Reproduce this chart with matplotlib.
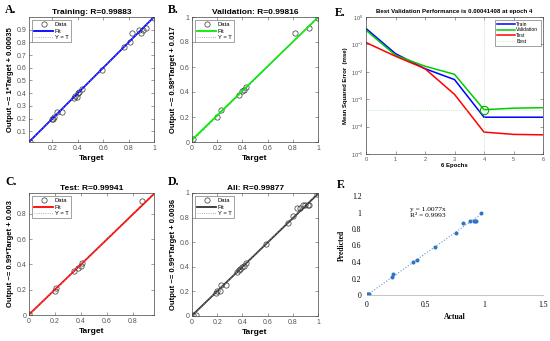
import numpy as np
import matplotlib
matplotlib.use("Agg")
import matplotlib.pyplot as plt
from matplotlib.ticker import FormatStrFormatter, LogLocator, NullFormatter

plt.rcParams['font.family'] = ['Liberation Sans', 'DejaVu Sans']

# ---- regression data (targets / outputs) ----
train_t = [0.026, 0.195, 0.205, 0.215, 0.237, 0.276, 0.37, 0.38, 0.39, 0.40, 0.41, 0.43,
           0.59, 0.76, 0.81, 0.83, 0.88, 0.895, 0.91, 0.935, 1.0]
train_o = [0.015, 0.195, 0.20, 0.21, 0.25, 0.25, 0.36, 0.38, 0.37, 0.40, 0.41, 0.43,
           0.58, 0.76, 0.80, 0.875, 0.90, 0.875, 0.90, 0.91, 0.99]

val_t = [0.01, 0.20, 0.23, 0.37, 0.40, 0.41, 0.43, 0.82, 0.93, 1.0]
val_o = [0.025, 0.20, 0.26, 0.38, 0.41, 0.415, 0.44, 0.875, 0.91, 0.99]

test_t = [0.0, 0.20, 0.21, 0.35, 0.38, 0.40, 0.41, 0.875]
test_o = [0.01, 0.19, 0.21, 0.35, 0.37, 0.39, 0.41, 0.90]

all_t = [0.01, 0.03, 0.19, 0.20, 0.22, 0.23, 0.27, 0.36, 0.37, 0.38, 0.40, 0.41, 0.43,
         0.59, 0.76, 0.80, 0.83, 0.86, 0.88, 0.90, 0.92, 0.93, 0.99]
all_o = [0.01, 0.01, 0.19, 0.20, 0.20, 0.25, 0.25, 0.36, 0.37, 0.38, 0.40, 0.41, 0.43,
         0.585, 0.76, 0.81, 0.875, 0.875, 0.90, 0.90, 0.90, 0.90, 0.99]

# ---- performance (mse per epoch) ----
epochs = [0, 1, 2, 3, 4, 5, 6]
mse_train = [0.38, 0.046, 0.013, 0.0052, 0.00022, 0.00022, 0.00022]
mse_val = [0.33, 0.040, 0.016, 0.0081, 0.00041408, 0.00047, 0.00049]
mse_test = [0.117, 0.037, 0.013, 0.0015, 0.000063, 0.000052, 0.00005]
best_epoch = 4
best_val = 0.00041408

# ---- actual vs predicted ----
actual = [0.0, 0.01, 0.02, 0.21, 0.22, 0.39, 0.43, 0.58, 0.76, 0.82, 0.875, 0.91, 0.92, 0.93, 0.975]
predicted = [0.01, 0.01, 0.01, 0.22, 0.25, 0.40, 0.43, 0.58, 0.755, 0.876, 0.90, 0.90, 0.90, 0.90, 0.99]
trend_slope = 1.0077

W, H = 550, 341


def px(l, t, r, b):
    return [l / W, 1 - b / H, (r - l) / W, (b - t) / H]


fig = plt.figure(figsize=(5.5, 3.41), dpi=100)
fig.patch.set_facecolor('white')


def regression(rect, t, o, title, ylab, color, slope, icpt, lims, xticks, yticks, letter, lpos):
    ax = fig.add_axes(px(*rect))
    lo, hi = lims
    ax.plot(t, o, 'o', mfc='none', mec='#333333', ms=3.8, mew=0.5, label='Data')
    xs = np.array([lo, hi])
    ax.plot(xs, slope * xs + icpt, '-', color=color, lw=1.3, label='Fit')
    ax.plot(xs, xs, ':', color='#999999', lw=0.6, label='Y = T')
    ax.set_xlim(lo, hi)
    ax.set_ylim(lo, hi)
    ax.set_xticks(xticks)
    ax.set_yticks(yticks)
    ax.xaxis.set_major_formatter(FormatStrFormatter('%g'))
    ax.yaxis.set_major_formatter(FormatStrFormatter('%g'))
    ax.tick_params(direction='in', top=True, right=True, length=2, width=0.4,
                   labelsize=5, colors='#555555', pad=2)
    for s in ax.spines.values():
        s.set_linewidth(0.5)
        s.set_color('#444444')
    ax.set_title(title, fontsize=6, fontweight='bold', pad=2)
    ax.set_xlabel('Target', fontsize=6, fontweight='bold', labelpad=2)
    ax.set_ylabel(ylab, fontsize=5.5, fontweight='bold', labelpad=2)
    leg = ax.legend(loc='upper left', fontsize=4.2, frameon=True, fancybox=False,
                    handlelength=3.2, borderpad=0.4, labelspacing=0.2, handletextpad=0.3)
    leg.get_frame().set_edgecolor('#333333')
    leg.get_frame().set_linewidth(0.4)
    fig.text(lpos[0] / W, 1 - lpos[1] / H, letter, fontsize=8.5, fontweight='bold',
             family='Liberation Serif', va='center', ha='left')
    return ax


regression((29, 17, 154, 142), train_t, train_o, 'Training: R=0.99883',
           'Output ~= 1*Target + 0.00035', 'blue', 1.0, 0.00035, (0.015, 1.0),
           [0.2, 0.4, 0.6, 0.8, 1.0], np.arange(0.1, 0.95, 0.1), 'A.', (5, 10))
regression((192, 17, 318, 142), val_t, val_o, 'Validation: R=0.99816',
           'Output ~= 0.98*Target + 0.017', '#00ee00', 0.98, 0.017, (0.0, 1.0),
           np.arange(0, 1.01, 0.2), np.arange(0, 1.01, 0.2), 'B.', (168, 10))
regression((29, 193, 154, 315), test_t, test_o, 'Test: R=0.99941',
           'Output ~= 0.99*Target + 0.003', 'red', 0.99, 0.003, (0.0, 0.965),
           np.arange(0, 0.81, 0.2), np.arange(0, 0.81, 0.2), 'C.', (5, 182))
regression((192, 193, 318, 316), all_t, all_o, 'All: R=0.99877',
           'Output ~= 0.99*Target + 0.0036', '#333333', 0.99, 0.0036, (0.0, 1.0),
           np.arange(0, 1.01, 0.2), np.arange(0, 1.01, 0.2), 'D.', (168, 182))

# ---- E: performance ----
ax = fig.add_axes(px(366, 17, 543, 154))
ax.semilogy(epochs, mse_train, color='blue', lw=1.1, label='Train')
ax.semilogy(epochs, mse_val, color='#00cc00', lw=1.1, label='Validation')
ax.semilogy(epochs, mse_test, color='red', lw=1.1, label='Test')
ax.axhline(best_val, color='#99dd99', lw=0.5, ls=':', label='Best')
ax.axvline(best_epoch, color='#99dd99', lw=0.5, ls=':')
ax.plot([best_epoch], [best_val], 'o', mfc='none', mec='#00aa00', ms=6, mew=0.8)
ax.set_xlim(0, 6)
ax.set_ylim(1e-5, 1)
ax.set_xticks(epochs)
ax.yaxis.set_major_locator(LogLocator(base=10, numticks=10))
ax.yaxis.set_minor_formatter(NullFormatter())
ax.tick_params(direction='in', top=True, right=True, length=2, width=0.4,
               labelsize=4, colors='#555555', pad=2)
ax.tick_params(which='minor', length=0)
for s in ax.spines.values():
    s.set_linewidth(0.5)
    s.set_color('#444444')
ax.set_title('Best Validation Performance is 0.00041408 at epoch 4', fontsize=4.4,
             fontweight='bold', pad=3)
ax.set_xlabel('6 Epochs', fontsize=4.3, fontweight='bold', labelpad=1)
ax.set_ylabel('Mean Squared Error  (mse)', fontsize=4.3, fontweight='bold', labelpad=2)
leg = ax.legend(loc='upper right', fontsize=3.6, frameon=True, fancybox=False,
                handlelength=3.5, borderpad=0.4, labelspacing=0.15, handletextpad=0.3)
leg.get_frame().set_edgecolor('#333333')
leg.get_frame().set_linewidth(0.4)
fig.text(335 / W, 1 - 13 / H, 'E.', fontsize=8.5, fontweight='bold',
         family='Liberation Serif', va='center', ha='left')

# ---- F: actual vs predicted ----
ax = fig.add_axes(px(367, 196, 543, 295))
xs = np.array([0, max(actual)])
ax.plot(xs, trend_slope * xs, ':', color='#5b9bd5', lw=0.8)
ax.plot(actual, predicted, 'o', color='#2e75c6', ms=2.9, mew=0)
ax.set_xlim(0, 1.5)
ax.set_ylim(0, 1.2)
ax.set_xticks([0, 0.5, 1, 1.5])
ax.set_yticks(np.arange(0, 1.21, 0.2))
ax.xaxis.set_major_formatter(FormatStrFormatter('%g'))
ax.yaxis.set_major_formatter(FormatStrFormatter('%g'))
for k in ['top', 'right', 'left']:
    ax.spines[k].set_visible(False)
ax.spines['bottom'].set_color('#bbbbbb')
ax.spines['bottom'].set_linewidth(0.6)
ax.tick_params(length=0, labelsize=5.5, pad=4)
for lab in ax.get_xticklabels() + ax.get_yticklabels():
    lab.set_family('Liberation Serif')
ax.set_xlabel('Actual', fontsize=5.5, fontweight='bold', family='Liberation Serif', labelpad=3)
ax.set_ylabel('Predicted', fontsize=5.5, fontweight='bold', family='Liberation Serif', labelpad=4)
ax.text(0.37, 1.0, 'y = 1.0077x\nR² = 0.9993', fontsize=5.3, family='Liberation Serif',
        va='center', ha='left', linespacing=1.1)
fig.text(337 / W, 1 - 185 / H, 'F.', fontsize=8.5, fontweight='bold',
         family='Liberation Serif', va='center', ha='left')

fig.savefig('out.png', dpi=100, facecolor='white')
